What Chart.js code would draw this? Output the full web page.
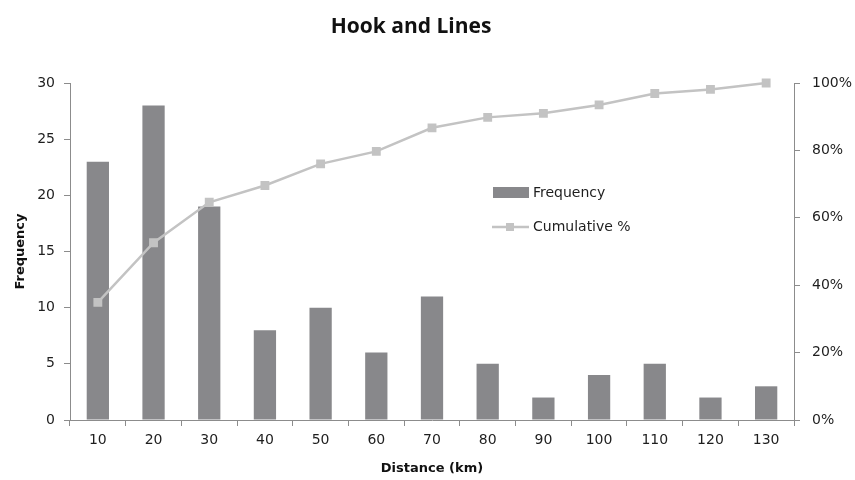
<!DOCTYPE html>
<html>
<head>
<meta charset="utf-8">
<script src="https://cdn.jsdelivr.net/npm/chart.js@4.4.1/dist/chart.umd.min.js"></script>
<style>
  html, body { margin: 0; padding: 0; background: #fff; }
  #wrap { width: 855px; height: 480px; position: relative; }
</style>
</head>
<body>
<div id="wrap"><canvas id="c" width="855" height="480"></canvas></div>
<script>
const categories = ['10','20','30','40','50','60','70','80','90','100','110','120','130'];
const frequency = [23, 28, 19, 8, 10, 6, 11, 5, 2, 4, 5, 2, 3];
const cumulativePct = [0.349, 0.526, 0.646, 0.696, 0.760, 0.797, 0.867, 0.898, 0.910, 0.935, 0.969, 0.981, 1.0];
const freqTicks = [0, 5, 10, 15, 20, 25, 30];
const pctTicks = [0, 0.2, 0.4, 0.6, 0.8, 1.0];
const chartTitle = 'Hook and Lines';

const FONT = '"DejaVu Sans", Verdana, sans-serif';
const BAR_COLOR = '#88888b';
const LINE_COLOR = '#c3c3c3';
const AXIS_COLOR = '#8c8c8c';
const TEXT_COLOR = '#1e1e1e';

const titleAndLegend = {
  id: 'titleAndLegend',
  afterDraw(chart) {
    const ctx = chart.ctx;
    ctx.save();
    // Title
    ctx.fillStyle = '#111';
    ctx.font = 'bold 21px "Open Sans", sans-serif';
    ctx.textAlign = 'center';
    ctx.textBaseline = 'alphabetic';
    ctx.fillText(chartTitle, 411, 33);
    // Legend
    const bar = chart.data.datasets.find(d => d.type === 'bar');
    const line = chart.data.datasets.find(d => d.type === 'line');
    ctx.fillStyle = BAR_COLOR;
    ctx.fillRect(493, 187, 36, 11);
    ctx.fillStyle = TEXT_COLOR;
    ctx.font = '14px ' + FONT;
    ctx.textBaseline = 'middle';
    ctx.textAlign = 'left';
    ctx.fillText(bar.label, 533, 193);
    ctx.strokeStyle = LINE_COLOR;
    ctx.lineWidth = 2.5;
    ctx.beginPath();
    ctx.moveTo(492, 227);
    ctx.lineTo(529, 227);
    ctx.stroke();
    ctx.fillStyle = LINE_COLOR;
    ctx.fillRect(506, 223, 8, 8);
    ctx.fillStyle = TEXT_COLOR;
    ctx.fillText(line.label, 533, 227);
    ctx.restore();
  }
};

new Chart(document.getElementById('c'), {
  data: {
    labels: categories,
    datasets: [
      {
        type: 'line',
        label: 'Cumulative %',
        data: cumulativePct,
        yAxisID: 'y1',
        borderColor: LINE_COLOR,
        backgroundColor: LINE_COLOR,
        borderWidth: 2.5,
        pointStyle: 'rect',
        pointRadius: 4.5,
        pointBackgroundColor: LINE_COLOR,
        pointBorderColor: LINE_COLOR,
        tension: 0,
        clip: false,
        order: 0
      },
      {
        type: 'bar',
        label: 'Frequency',
        data: frequency,
        yAxisID: 'y',
        backgroundColor: BAR_COLOR,
        barPercentage: 0.4,
        categoryPercentage: 1.0,
        order: 1
      }
    ]
  },
  options: {
    responsive: false,
    animation: false,
    devicePixelRatio: 1,
    layout: { padding: { left: 13, right: 0, top: 83, bottom: 0 } },
    plugins: {
      legend: { display: false },
      tooltip: { enabled: false },
      title: { display: false }
    },
    scales: {
      x: {
        type: 'category',
        offset: true,
        grid: { drawOnChartArea: false, offset: true, tickLength: 6, color: AXIS_COLOR },
        border: { color: AXIS_COLOR, width: 1 },
        ticks: { color: TEXT_COLOR, font: { family: FONT, size: 14 }, padding: 6, maxRotation: 0 },
        title: { display: true, text: 'Distance (km)', color: '#111', font: { family: FONT, size: 13, weight: 'bold' }, padding: { top: 6, bottom: 4 } },
        afterFit(scale) { scale.height = 60; }
      },
      y: {
        type: 'linear',
        position: 'left',
        min: 0, max: 30,
        afterBuildTicks(scale) { scale.ticks = freqTicks.map(v => ({ value: v })); },
        grid: { drawOnChartArea: false, tickLength: 6, color: AXIS_COLOR },
        border: { color: AXIS_COLOR, width: 1 },
        ticks: { color: TEXT_COLOR, font: { family: FONT, size: 14 }, padding: 9 },
        title: { display: true, text: 'Frequency', color: '#111', font: { family: FONT, size: 13, weight: 'bold' }, padding: 0 },
        afterFit(scale) { scale.width = 57; }
      },
      y1: {
        type: 'linear',
        position: 'right',
        min: 0, max: 1,
        afterBuildTicks(scale) { scale.ticks = pctTicks.map(v => ({ value: v })); },
        grid: { drawOnChartArea: false, tickLength: 6, color: AXIS_COLOR },
        border: { color: AXIS_COLOR, width: 1 },
        ticks: { color: TEXT_COLOR, font: { family: FONT, size: 14 }, padding: 12,
                 callback: v => Math.round(v * 100) + '%' },
        afterFit(scale) { scale.width = 61; }
      }
    }
  },
  plugins: [titleAndLegend]
});
</script>
</body>
</html>
